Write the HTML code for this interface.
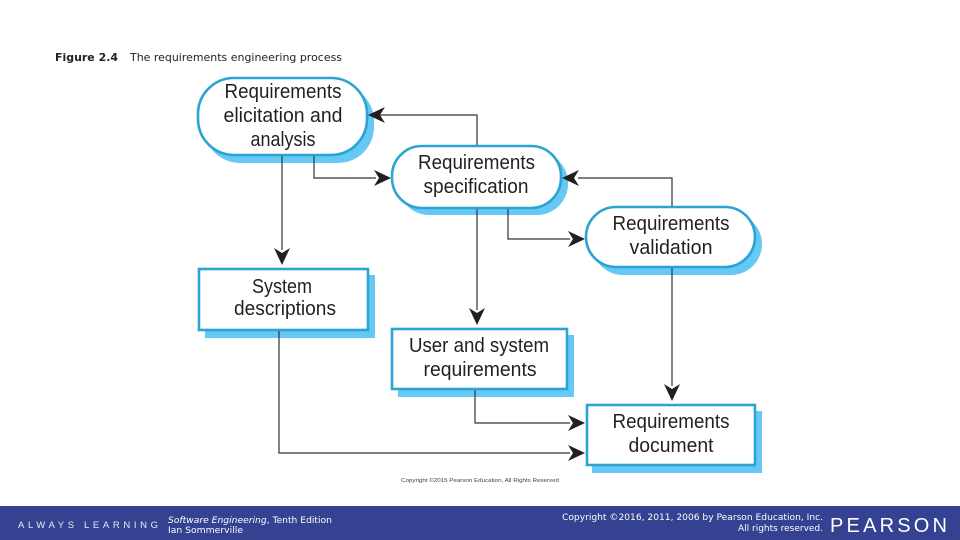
<!DOCTYPE html>
<html><head><meta charset="utf-8"><style>
html,body{margin:0;padding:0;background:#fff;width:960px;height:540px;overflow:hidden}
svg{display:block}
.d{font-family:"Liberation Sans",sans-serif;font-size:20px;fill:#231f20;text-anchor:middle}
.v{font-family:"DejaVu Sans",sans-serif}
.n{fill:#fff;stroke:#2ba3d3;stroke-width:2.6}
.s{fill:#66c8f5}
.l{fill:none;stroke:#333;stroke-width:1.2}
.a{fill:#231f20}
</style></head><body>
<svg width="960" height="540" viewBox="0 0 960 540" xmlns="http://www.w3.org/2000/svg">
<rect width="960" height="540" fill="#fff"/>
<text class="v" x="55" y="61" font-size="10.5" font-weight="bold" fill="#222" textLength="63" lengthAdjust="spacingAndGlyphs">Figure 2.4</text>
<text class="v" x="130" y="61" font-size="10.5" fill="#222" textLength="212" lengthAdjust="spacingAndGlyphs">The requirements engineering process</text>

<rect class="s" x="204" y="85" width="170" height="78" rx="36"/>
<rect class="s" x="398" y="152" width="170" height="63" rx="31"/>
<rect class="s" x="592" y="213" width="170" height="62" rx="31"/>
<rect class="s" x="205" y="275" width="170" height="63"/>
<rect class="s" x="398" y="335" width="176" height="62"/>
<rect class="s" x="592" y="411" width="170" height="62"/>

<path class="l" d="M477 145V115H372M314 156V178H376M508 208V239H570M672 206V178H578M282 156V250M477 208V310M672 268V386M475 389V423H570M279 330V453H570"/>
<path class="a" d="M368 115l17-8-5 8 5 8zM391 178l-17-8 5 8-5 8zM585 239l-17-8 5 8-5 8zM562 178l17-8-5 8 5 8zM282 265l-8-17 8 5 8-5zM477 325l-8-17 8 5 8-5zM672 401l-8-17 8 5 8-5zM585 423l-17-8 5 8-5 8zM585 453l-17-8 5 8-5 8z"/>

<rect class="n" x="198" y="78" width="169" height="77" rx="36"/>
<rect class="n" x="392" y="146" width="169" height="62" rx="30"/>
<rect class="n" x="586" y="207" width="169" height="60" rx="30"/>
<rect class="n" x="199" y="269" width="169" height="61"/>
<rect class="n" x="392" y="329" width="175" height="60"/>
<rect class="n" x="587" y="405" width="168" height="60"/>

<g lengthAdjust="spacingAndGlyphs">
<text class="d" x="283" y="98" textLength="117" lengthAdjust="spacingAndGlyphs">Requirements</text>
<text class="d" x="283" y="122" textLength="119" lengthAdjust="spacingAndGlyphs">elicitation and</text>
<text class="d" x="283" y="146" textLength="65" lengthAdjust="spacingAndGlyphs">analysis</text>
<text class="d" x="476.500" y="169" textLength="117" lengthAdjust="spacingAndGlyphs">Requirements</text>
<text class="d" x="476" y="193" textLength="105" lengthAdjust="spacingAndGlyphs">specification</text>
<text class="d" x="671" y="230" textLength="117" lengthAdjust="spacingAndGlyphs">Requirements</text>
<text class="d" x="671" y="254" textLength="83" lengthAdjust="spacingAndGlyphs">validation</text>
<text class="d" x="282" y="293" textLength="60" lengthAdjust="spacingAndGlyphs">System</text>
<text class="d" x="285" y="315" textLength="102" lengthAdjust="spacingAndGlyphs">descriptions</text>
<text class="d" x="479" y="352" textLength="140" lengthAdjust="spacingAndGlyphs">User and system</text>
<text class="d" x="480" y="376" textLength="113" lengthAdjust="spacingAndGlyphs">requirements</text>
<text class="d" x="671" y="428" textLength="117" lengthAdjust="spacingAndGlyphs">Requirements</text>
<text class="d" x="671" y="452" textLength="85" lengthAdjust="spacingAndGlyphs">document</text>
</g>

<text x="401" y="482" font-family="Liberation Sans,sans-serif" font-size="5.5" fill="#444" textLength="158" lengthAdjust="spacingAndGlyphs">Copyright ©2015 Pearson Education, All Rights Reserved</text>

<rect x="0" y="506" width="960" height="34" fill="#354291"/>
<text x="18" y="528" font-family="Liberation Sans,sans-serif" font-size="9.500" fill="#e8eaf4" textLength="140">ALWAYS LEARNING</text>
<text class="v" x="168" y="523" font-size="9" fill="#fff" textLength="164" lengthAdjust="spacingAndGlyphs"><tspan font-style="italic">Software Engineering</tspan>, Tenth Edition</text>
<text class="v" x="168" y="533" font-size="9" fill="#fff" textLength="75" lengthAdjust="spacingAndGlyphs">Ian Sommerville</text>
<text class="v" x="823" y="520" font-size="9" fill="#fff" text-anchor="end" textLength="261" lengthAdjust="spacingAndGlyphs">Copyright ©2016, 2011, 2006 by Pearson Education, Inc.</text>
<text class="v" x="823" y="531" font-size="9" fill="#fff" text-anchor="end" textLength="85" lengthAdjust="spacingAndGlyphs">All rights reserved.</text>
<text x="830" y="532" font-family="Liberation Sans,sans-serif" font-size="20" fill="#fff" textLength="117" lengthAdjust="spacing">PEARSON</text>
</svg>
</body></html>
